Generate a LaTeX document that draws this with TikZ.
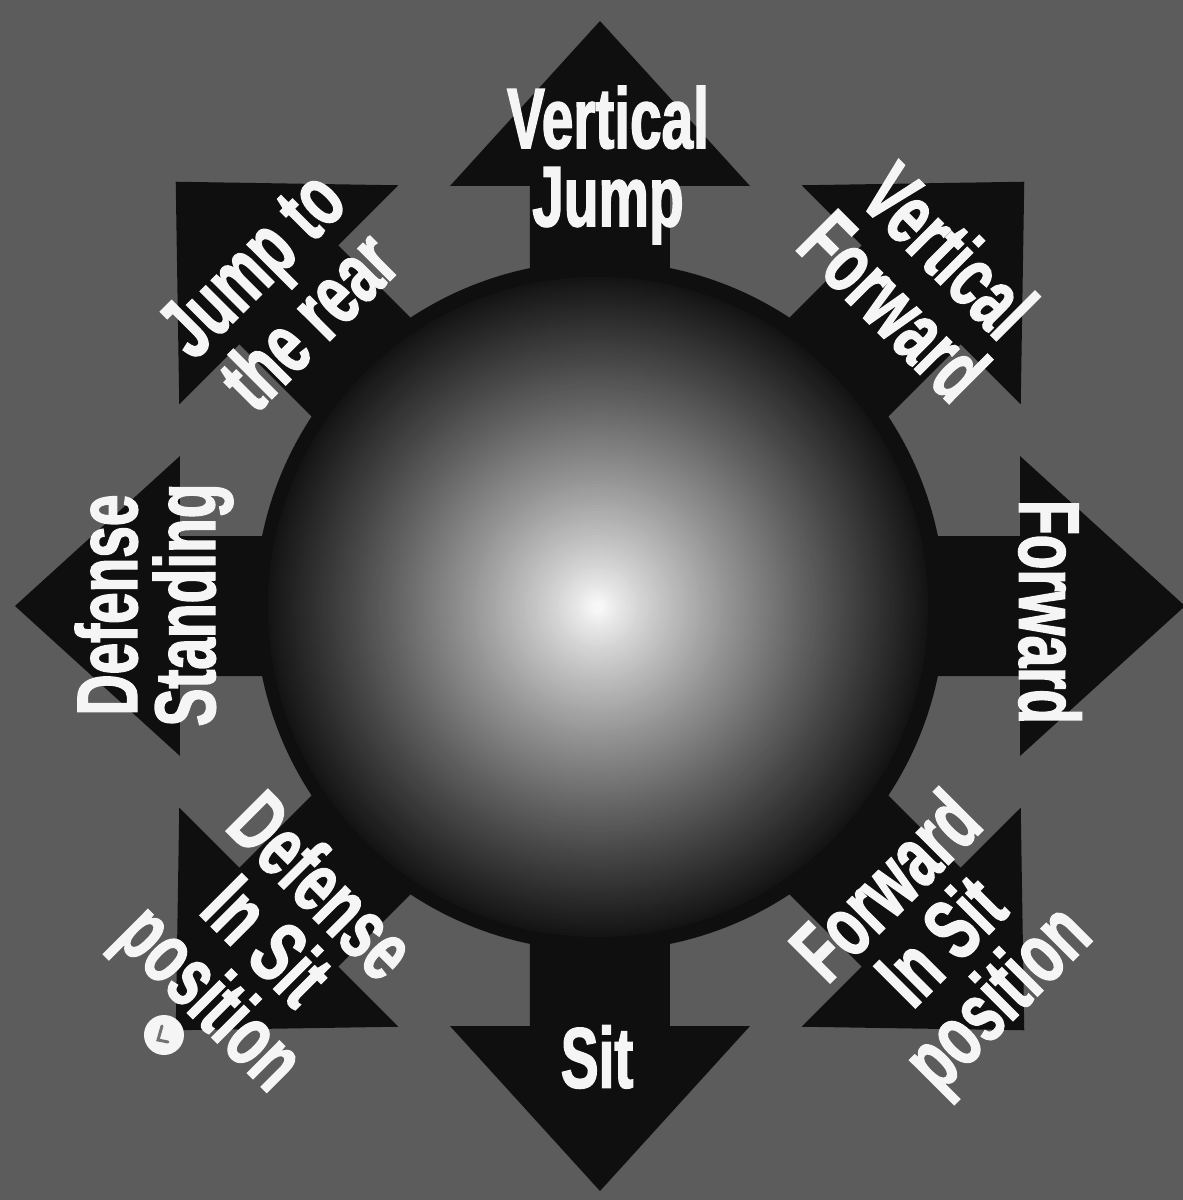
\documentclass[tikz,border=0pt]{standalone}
\usepackage{fontspec}
\newfontfamily\labfont[FakeStretch=0.66,FakeBold=1.6]{Liberation Sans}
\definecolor{bg}{HTML}{5C5C5C}
\definecolor{ink}{HTML}{0F0F0F}
\definecolor{paper}{HTML}{F5F5F5}
\begin{document}
\begin{tikzpicture}[x=1pt,y=1pt,
  lab/.style={text=paper, font=\labfont\bfseries\fontsize{86}{78}\selectfont, align=center, inner sep=0pt}]
\useasboundingbox (-600,-594) rectangle (583,606);
\fill[bg] (-600,-594) rectangle (583,606);
% cardinal arrows
\foreach \a in {90,0,-90,180}
  \fill[ink,rotate=\a] (250,-70) -- (420,-70) -- (420,-150) -- (585,0) -- (420,150) -- (420,70) -- (250,70) -- cycle;
% diagonal arrows
\foreach \a in {45,135,-45,-135}
  \fill[ink,rotate=\a] (250,-70) -- (440,-70) -- (440,-155) -- (600,0) -- (440,155) -- (440,70) -- (250,70) -- cycle;
% sphere: dark rim, then graded disc from dark edge to bright centre
\fill[ink] (0,0) circle (345);
\foreach \i in {0,...,108} {
  \pgfmathsetmacro\rr{330-3*\i}
  \pgfmathsetmacro\bb{100-92*(\rr/330)^0.85}
  \fill[white!\bb!black] (-2,-1) circle (\rr);
}
% labels
\node[lab] (vj) at (8,441) {Vertical\\Jump};
\node[lab,rotate=-45] (vf) at (322,328) {Vertical\\Forward};
\node[lab,rotate=-90] (fw) at (450,-6) {Forward};
\node[lab,rotate=45] (fs) at (346,-340) {Forward\\In Sit\\position};
\node[lab] (sit) at (-3,-451) {Sit};
\node[lab,rotate=-45] (ds) at (-338,-340) {Defense\\In Sit\\position};
\node[lab,rotate=90] (dst) at (-446,1) {Defense\\Standing};
\node[lab,rotate=45] (jr) at (-320,314) {Jump to\\the rear};
% small ball
\fill[paper] (-436,-429) circle (20);
\draw[black!55,line width=3pt,line cap=round] (-438,-420) -- (-442,-434) -- (-432,-436);
\end{tikzpicture}
\end{document}
